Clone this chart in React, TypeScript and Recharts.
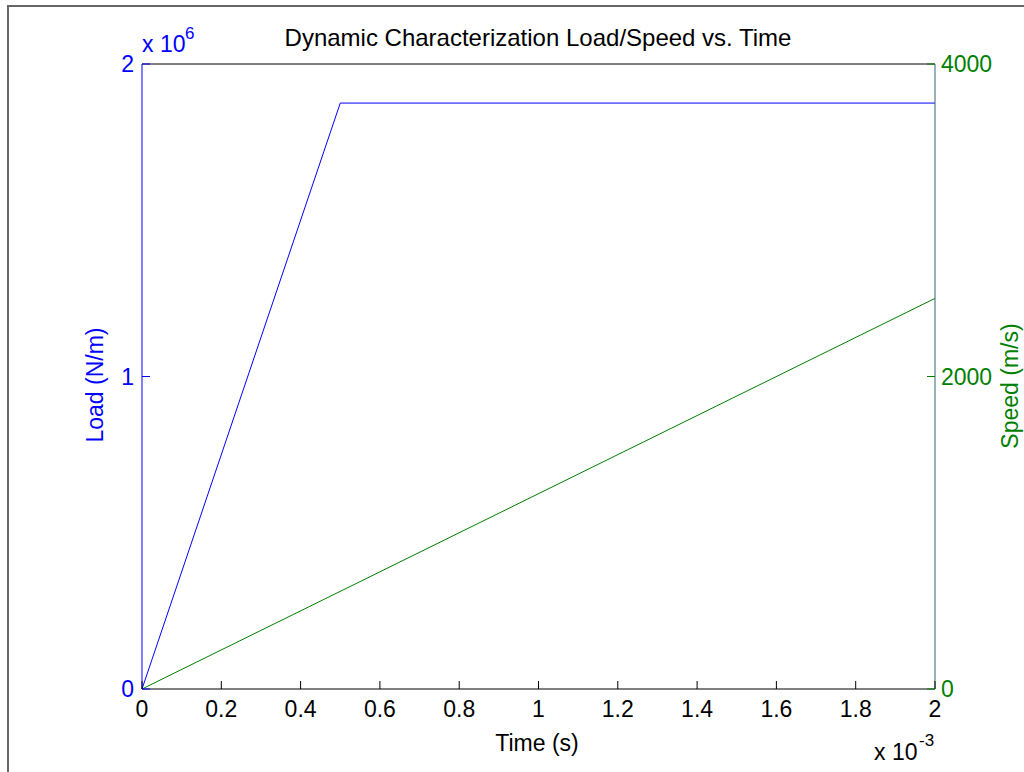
import { LineChart, Line, XAxis, YAxis } from 'recharts'

// time axis in units of 1e-3 s
const timeTicks = [0, 0.2, 0.4, 0.6, 0.8, 1, 1.2, 1.4, 1.6, 1.8, 2]
const timeLabels = ['0', '0.2', '0.4', '0.6', '0.8', '1', '1.2', '1.4', '1.6', '1.8', '2']
// load in units of 1e6 N/m
const loadTicks = [0, 1, 2]
const speedTicks = [0, 2000, 4000]

const loadTime = [0, 0.5, 2]
const loadValues = [0, 1.875, 1.875]
const speedTime = [0, 2]
const speedValues = [0, 2500]

const loadData = loadTime.map((t, i) => ({ t, load: loadValues[i] }))
const speedData = speedTime.map((t, i) => ({ t, speed: speedValues[i] }))

const FONT = '"Liberation Sans", Arial, sans-serif'
const BLUE = '#0000ff'
const GREEN = '#008000'
const TICK = 8
const FS = 23

const BottomTick = (props: any) => {
    const { x, y, payload, index } = props
    return (
        <g>
            <line x1={x} y1={y} x2={x} y2={y - TICK} stroke="#000" />
            <text x={x} y={y + 28} textAnchor="middle" fontFamily={FONT} fontSize={FS} fill="#000">
                {timeLabels[index] ?? payload.value}
            </text>
        </g>
    )
}

const TopTick = (props: any) => {
    const { x, y } = props
    return <line x1={x} y1={y} x2={x} y2={y + TICK} stroke="#000" />
}

const LeftTick = (props: any) => {
    const { x, y, payload } = props
    return (
        <g>
            <line x1={x} y1={y} x2={x + TICK} y2={y} stroke={BLUE} />
            <text x={x - 8} y={y + 8} textAnchor="end" fontFamily={FONT} fontSize={FS} fill={BLUE}>
                {payload.value}
            </text>
        </g>
    )
}

const RightTick = (props: any) => {
    const { x, y, payload } = props
    return (
        <g>
            <line x1={x} y1={y} x2={x - TICK} y2={y} stroke={GREEN} />
            <text x={x + 6} y={y + 8} textAnchor="start" fontFamily={FONT} fontSize={FS} fill={GREEN}>
                {payload.value}
            </text>
        </g>
    )
}

export default function App() {
    return (
        <div style={{ position: 'fixed', left: 0, top: 0, width: 1024, height: 772, background: '#fff' }}>
            {/* figure frame, only left and top edges visible */}
            <div style={{ position: 'absolute', left: 7, top: 5, right: 0, bottom: 0, borderLeft: '2px solid #666', borderTop: '2px solid #666' }} />

            <div style={{ position: 'absolute', left: 0, top: 0 }}>
                <LineChart width={1024} height={772} margin={{ top: 63, right: 0, bottom: 0, left: 0 }}>
                    <XAxis
                        xAxisId="bottom"
                        type="number"
                        dataKey="t"
                        domain={[0, 2]}
                        ticks={timeTicks}
                        height={83}
                        stroke="#000"
                        tickLine={false}
                        tickSize={0}
                        tickMargin={0}
                        tick={<BottomTick />}
                    />
                    <XAxis
                        xAxisId="top"
                        orientation="top"
                        type="number"
                        dataKey="t"
                        domain={[0, 2]}
                        ticks={timeTicks}
                        height={1}
                        stroke="#000"
                        tickLine={false}
                        tickSize={0}
                        tickMargin={0}
                        tick={<TopTick />}
                    />
                    <YAxis
                        yAxisId="left"
                        domain={[0, 2]}
                        ticks={loadTicks}
                        width={142}
                        stroke={BLUE}
                        tickLine={false}
                        tickSize={0}
                        tickMargin={0}
                        tick={<LeftTick />}
                    />
                    <YAxis
                        yAxisId="right"
                        orientation="right"
                        domain={[0, 4000]}
                        ticks={speedTicks}
                        width={89}
                        stroke="#336677"
                        tickLine={false}
                        tickSize={0}
                        tickMargin={0}
                        tick={<RightTick />}
                    />
                    <Line
                        data={speedData}
                        xAxisId="bottom"
                        yAxisId="right"
                        type="linear"
                        dataKey="speed"
                        stroke={GREEN}
                        strokeWidth={1}
                        dot={false}
                        isAnimationActive={false}
                    />
                    <Line
                        data={loadData}
                        xAxisId="bottom"
                        yAxisId="left"
                        type="linear"
                        dataKey="load"
                        stroke={BLUE}
                        strokeWidth={1}
                        dot={false}
                        isAnimationActive={false}
                    />
                </LineChart>
            </div>

            <svg width={1024} height={772} style={{ position: 'absolute', left: 0, top: 0, pointerEvents: 'none' }} fontFamily={FONT}>
                <text x={538} y={46} textAnchor="middle" fontSize={24} fill="#000">
                    Dynamic Characterization Load/Speed vs. Time
                </text>
                <text x={142} y={52} fontSize={FS} fill={BLUE}>x 10</text>
                <text x={185} y={39} fontSize={17} fill={BLUE}>6</text>
                <text x={874} y={760} fontSize={FS} fill="#000">x 10</text>
                <text x={919} y={746} fontSize={17} fill="#000">-3</text>
                <text x={537} y={751} textAnchor="middle" fontSize={FS} fill="#000">Time (s)</text>
                <text transform="translate(103,385) rotate(-90)" textAnchor="middle" fontSize={FS} fill={BLUE}>
                    Load (N/m)
                </text>
                <text transform="translate(1018,386) rotate(-90)" textAnchor="middle" fontSize={FS} fill={GREEN}>
                    Speed (m/s)
                </text>
            </svg>
        </div>
    )
}
